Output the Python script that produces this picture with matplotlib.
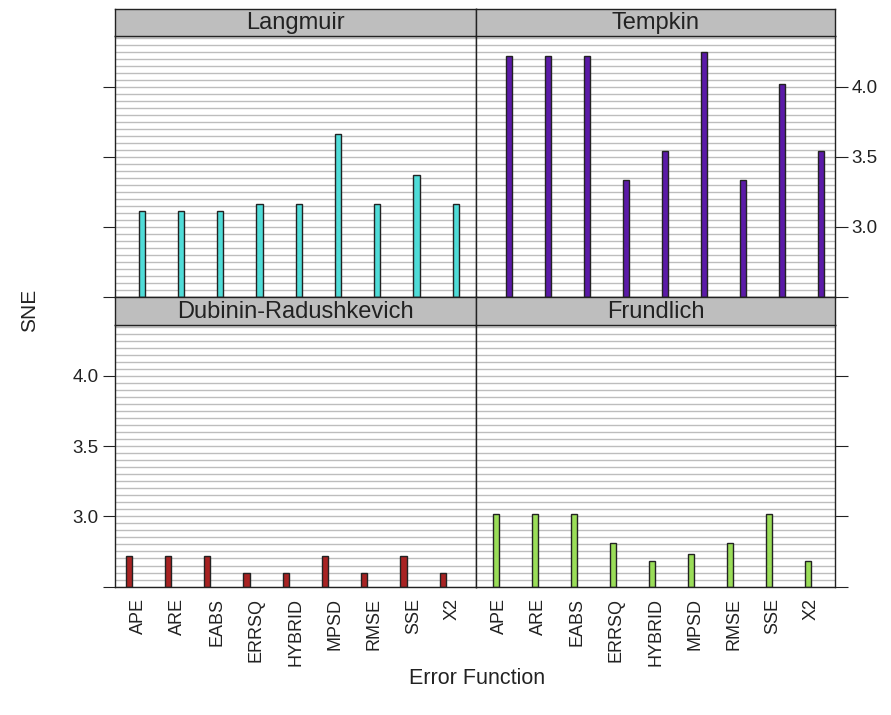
import matplotlib
matplotlib.use("Agg")
import matplotlib.pyplot as plt
import numpy as np

plt.rcParams["font.family"] = ["Liberation Sans", "DejaVu Sans"]

categories = ["APE", "ARE", "EABS", "ERRSQ", "HYBRID", "MPSD", "RMSE", "SSE", "X2"]
langmuir = [3.11, 3.11, 3.11, 3.16, 3.16, 3.66, 3.16, 3.37, 3.16]
tempkin = [4.22, 4.22, 4.22, 3.33, 3.54, 4.25, 3.33, 4.02, 3.54]
dubinin = [2.72, 2.72, 2.72, 2.60, 2.60, 2.72, 2.60, 2.72, 2.60]
frundlich = [3.02, 3.02, 3.02, 2.81, 2.68, 2.73, 2.81, 3.02, 2.68]
panel_titles = ["Langmuir", "Tempkin", "Dubinin-Radushkevich", "Frundlich"]
# group order (alphabetical, as in the grouped barchart)
group_order = ["Dubinin-Radushkevich", "Frundlich", "Langmuir", "Tempkin"]
colors = ["#4FDCD8", "#5B1AA8", "#A82222", "#9ADD58"]
yticks = [2.5, 3.0, 3.5, 4.0]
ytick_labels = ["", "3.0", "3.5", "4.0"]

W, H = 891, 715
fig = plt.figure(figsize=(W / 100, H / 100), dpi=100)
fig.patch.set_facecolor("white")

ymin, ymax = 2.497, 4.362
x0, xm, x1 = 115, 476, 835
panels = [
    (langmuir, x0, xm, 9, 36, 297),
    (tempkin, xm, x1, 9, 36, 297),
    (dubinin, x0, xm, 297, 325, 587),
    (frundlich, xm, x1, 297, 325, 587),
]

x = np.arange(1, len(categories) + 1)
grid_vals = np.arange(2.5, 4.40, 0.05)
ngroups = len(group_order)
bw = (2.0 / 3.0) / ngroups

for i, (vals, l, r, st, pt, pb) in enumerate(panels):
    ax = fig.add_axes([l / W, 1 - pb / H, (r - l) / W, (pb - pt) / H])
    ax.set_xlim(0.4, len(categories) + 0.6)
    ax.set_ylim(ymin, ymax)
    for g in grid_vals:
        ax.axhline(g, color="#BDBDBD", lw=1.0, zorder=0)
    gi = group_order.index(panel_titles[i])
    offset = (gi - (ngroups - 1) / 2.0) * bw
    ax.bar(x + offset, np.array(vals) - ymin, bottom=ymin, width=bw * 0.95,
           color=colors[i], edgecolor="#222222", linewidth=1.0, zorder=2)
    for s in ax.spines.values():
        s.set_color("#222222")
        s.set_linewidth(1.0)
    row, col = divmod(i, 2)
    ax.set_yticks(yticks)
    ax.tick_params(axis="y", direction="out", length=9, pad=3, color="#222222",
                   labelsize=13.5, labelcolor="#222222")
    if col == 0:
        ax.yaxis.tick_left()
        ax.set_yticklabels(ytick_labels if row == 1 else [""] * len(yticks))
    else:
        ax.yaxis.tick_right()
        ax.set_yticklabels(ytick_labels if row == 0 else [""] * len(yticks))
    ax.set_xticks(x)
    if row == 1:
        ax.set_xticklabels(categories, rotation=90, fontsize=13, color="#222222")
        ax.tick_params(axis="x", length=0, pad=8)
    else:
        ax.set_xticklabels([])
        ax.tick_params(axis="x", length=0)

    sax = fig.add_axes([l / W, 1 - pt / H, (r - l) / W, (pt - st) / H])
    sax.set_facecolor("#BEBEBE")
    sax.set_xticks([])
    sax.set_yticks([])
    for s in sax.spines.values():
        s.set_color("#222222")
        s.set_linewidth(1.0)
    sax.text(0.5, 0.48, panel_titles[i], ha="center", va="center",
             fontsize=17, color="#222222", transform=sax.transAxes)

fig.text(30 / W, 1 - 310 / H, "SNE", rotation=90, ha="center", va="center",
         fontsize=15, color="#222222")
fig.text(477 / W, 1 - 678 / H, "Error Function", ha="center", va="center",
         fontsize=15.5, color="#222222")

fig.savefig("out.png", dpi=100, facecolor="white")
